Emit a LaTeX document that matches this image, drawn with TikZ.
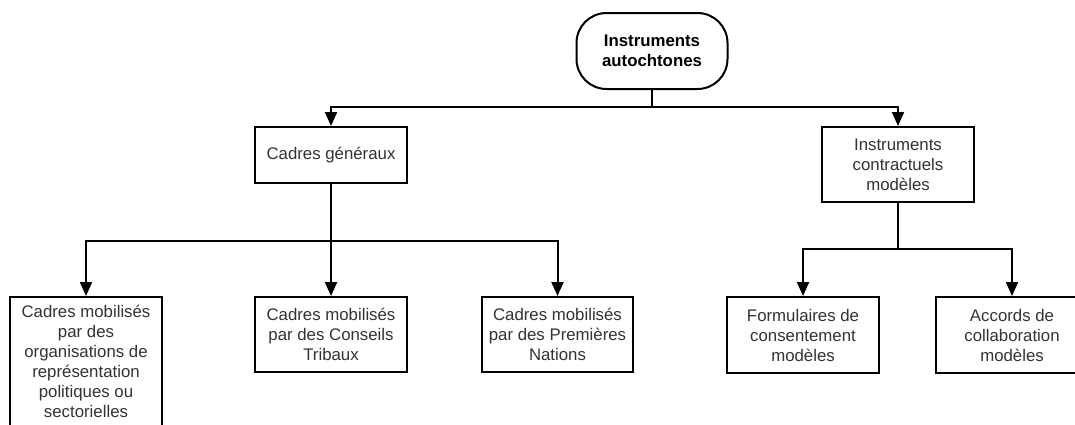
\documentclass[tikz,border=0pt]{standalone}
\usepackage{fontspec}
\setmainfont{Liberation Sans}
\usetikzlibrary{arrows.meta,positioning}
\definecolor{txt}{HTML}{333333}
\begin{document}
\begin{tikzpicture}[x=1pt,y=-1pt,
  box/.style={draw=black, line width=2pt, fill=white, align=center, text=txt,
    font=\fontsize{16.8}{20}\selectfont, inner sep=0pt},
  rootbox/.style={draw=black, line width=2pt, fill=white, align=center, text=black,
    font=\fontsize{16.8}{20}\selectfont\bfseries, rounded corners=30pt,
    minimum width=151pt, minimum height=76pt},
  arr/.style={line width=2pt, -{Triangle[length=14pt,width=12pt]}},
  ln/.style={line width=2pt}]
\useasboundingbox (0,0) rectangle (1075,424);
\clip (0,0) rectangle (1075,424);
\node[box, minimum width=152pt, minimum height=132pt] (l1) at (86,363) {\raisebox{3pt}{\begin{tabular}{@{}c@{}}Cadres mobilisés\\par des\\organisations de\\représentation\\politiques ou\\sectorielles\end{tabular}}};
\node[rootbox] (root) at (652,51) {Instruments\\autochtones};
\node[box, minimum width=152pt, minimum height=56pt] (cg) at (331,155) {Cadres généraux};
\node[box, minimum width=152pt, minimum height=75pt] (ic) at (898,164.5) {Instruments\\contractuels\\modèles};
\node[box, minimum width=152pt, minimum height=75pt] (l2) at (331,334.5) {Cadres mobilisés\\par des Conseils\\Tribaux};
\node[box, minimum width=151pt, minimum height=75pt] (l3) at (557.5,334.5) {Cadres mobilisés\\par des Premières\\Nations};
\node[box, minimum width=152pt, minimum height=76pt] (r1) at (803,335) {Formulaires de\\consentement\\modèles};
\node[box, minimum width=152pt, minimum height=76pt] (r2) at (1012,335) {Accords de\\collaboration\\modèles};
\coordinate (b0) at (652,107);
\coordinate (b1) at (331,241);
\coordinate (b2) at (898,249);
\draw[ln] (root.south) -- (root.south |- b0);
\draw[arr] (b0) -| (cg.north);
\draw[arr] (b0) -| (ic.north);
\draw[ln] (cg.south) -- (cg.south |- b1);
\draw[arr] (b1) -| (l1.north);
\draw[arr] (b1) -- (l2.north);
\draw[arr] (b1) -| (l3.north);
\draw[ln] (ic.south) -- (ic.south |- b2);
\draw[arr] (b2) -| (r1.north);
\draw[arr] (b2) -| (r2.north);
\end{tikzpicture}
\end{document}
